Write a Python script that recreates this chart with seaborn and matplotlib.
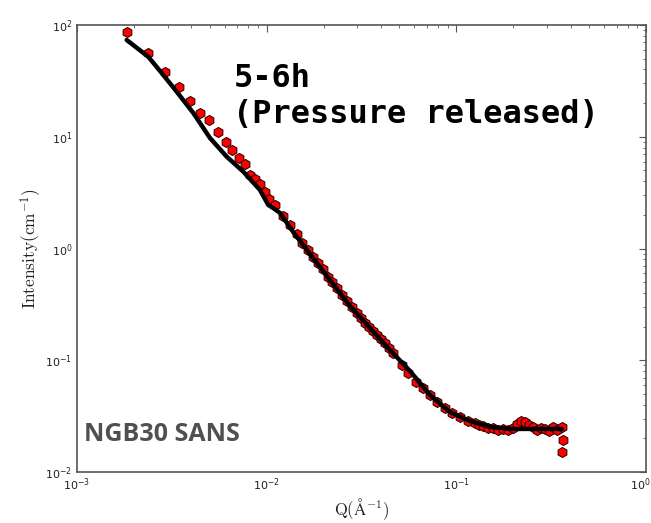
import numpy as np
import pandas as pd
import matplotlib
matplotlib.use("Agg")
import matplotlib.pyplot as plt
import matplotlib.transforms as mtransforms
import seaborn as sns

# Measured data (Q in 1/Angstrom, intensity in 1/cm)
q_data = [0.001835, 0.00237, 0.00291, 0.00345, 0.00394, 0.00445, 0.00497, 0.00554,
          0.00610, 0.00657, 0.00715, 0.00769, 0.00817, 0.00868, 0.00922, 0.00980,
          0.01029, 0.01106,
          0.01224, 0.01327, 0.01440, 0.01541, 0.01658, 0.01749, 0.01872, 0.01989,
          0.02113, 0.02203, 0.02340, 0.02486, 0.02642, 0.02808, 0.02984, 0.03145,
          0.03300, 0.03464, 0.03636, 0.03817, 0.04006, 0.04205, 0.04416, 0.04636,
          0.05151, 0.05580, 0.06127, 0.06696, 0.07262, 0.07936, 0.08715, 0.09452,
          0.1045, 0.1156, 0.1254, 0.1317, 0.1388, 0.1469, 0.1566, 0.1659, 0.1769,
          0.1873, 0.1990, 0.2089, 0.2193, 0.2301, 0.2416, 0.2537, 0.2663, 0.2796,
          0.2935, 0.3081, 0.3234, 0.3395, 0.3594, 0.3664, 0.3620]
i_data = [87.1, 55.8, 38.2, 27.7, 21.0, 16.4, 14.1, 11.0,
          8.92, 7.61, 6.41, 5.71, 4.55, 4.16, 3.78, 3.22,
          2.76, 2.45,
          1.954, 1.623, 1.348, 1.127, 0.9696, 0.8446, 0.7374, 0.6515,
          0.5593, 0.5045, 0.4404, 0.3836, 0.3410, 0.3014, 0.2631, 0.2388,
          0.2154, 0.1984, 0.1827, 0.1682, 0.1549, 0.1427, 0.1287, 0.1161,
          0.0907, 0.0764, 0.0643, 0.0561, 0.0489, 0.0426, 0.0372, 0.0335,
          0.0309, 0.0288, 0.0276, 0.0263, 0.0258, 0.0248, 0.0246, 0.0238, 0.0241,
          0.0238, 0.0246, 0.0269, 0.0286, 0.0280, 0.0263, 0.0253, 0.0238, 0.0248,
          0.0243, 0.0233, 0.0253, 0.0238, 0.0254, 0.0193, 0.0152]

# Model fit
q_fit = [0.001828, 0.002376, 0.002851, 0.003355, 0.004104, 0.005026, 0.006157,
         0.00753, 0.00922, 0.01020, 0.01084, 0.01176, 0.01377, 0.01692, 0.02158,
         0.02750, 0.03505, 0.04469, 0.05697, 0.07262, 0.0926, 0.1180, 0.1505,
         0.1918, 0.2445, 0.3117, 0.3607]
i_fit = [73.4, 52.0, 35.7, 25.3, 16.3, 9.74, 6.63,
         4.87, 3.34, 2.45, 2.30, 2.08, 1.413, 0.893, 0.5224,
         0.306, 0.1944, 0.1235, 0.0801, 0.0489, 0.0344, 0.0286, 0.0253,
         0.0243, 0.0243, 0.0243, 0.0243]

title_text = "5-6h\n(Pressure released)"
corner_text = "NGB30 SANS"

sns.set_style("white")
plt.rcParams["font.family"] = ["DejaVu Sans"]

df_data = pd.DataFrame({"q": q_data, "I": i_data})
df_fit = pd.DataFrame({"q": q_fit, "I": i_fit})

fig = plt.figure(figsize=(6.51, 5.23), dpi=100)
ax = fig.add_axes([0.1183, 0.0975, 0.8740, 0.8547])

sns.scatterplot(data=df_data, x="q", y="I", ax=ax, marker="h", s=52,
                color="#ff0000", edgecolor="#3a0000", linewidth=0.8, zorder=2)
sns.lineplot(data=df_fit, x="q", y="I", ax=ax, sort=False, estimator=None,
             color="black", linewidth=3.2, zorder=3)

ax.set_xscale("log")
ax.set_yscale("log")
ax.set_xlim(1e-3, 1.0)
ax.set_ylim(1e-2, 1e2)

for s in ax.spines.values():
    s.set_color("#555555")
    s.set_linewidth(1.2)
ax.tick_params(which="both", direction="in", top=True, right=True,
               colors="#555555", labelcolor="#222222", labelsize=8)
ax.tick_params(which="major", length=5)
ax.tick_params(which="minor", length=2.5)

ax.set_xlabel(r"$\mathrm{Q(\AA^{-1})}$", fontsize=12, math_fontfamily="cm",
              color="#222222", labelpad=2)
ax.set_ylabel(r"$\mathrm{Intensity(cm^{-1})}$", fontsize=12.5, math_fontfamily="cm",
              color="#222222")
ax.yaxis.set_label_coords(-0.058, 0.5)

ax.text(0.275, 0.915, title_text, transform=ax.transAxes, fontsize=23,
        family="DejaVu Sans Mono", fontweight="bold", color="black",
        va="top", ha="left", linespacing=1.2)
ax.text(0.012, 0.085, corner_text, transform=ax.transAxes, fontsize=18,
        family="Open Sans", fontweight="bold", color="#505050",
        va="center", ha="left")

# keep the rightmost x tick label inside the figure
fig.canvas.draw()
for lab in ax.get_xticklabels():
    x, _ = lab.get_position()
    if np.isclose(x, 1.0):
        lab.set_transform(lab.get_transform() +
                          mtransforms.ScaledTranslation(-6 / 100, 0, fig.dpi_scale_trans))

fig.savefig("out.png", dpi=100)
